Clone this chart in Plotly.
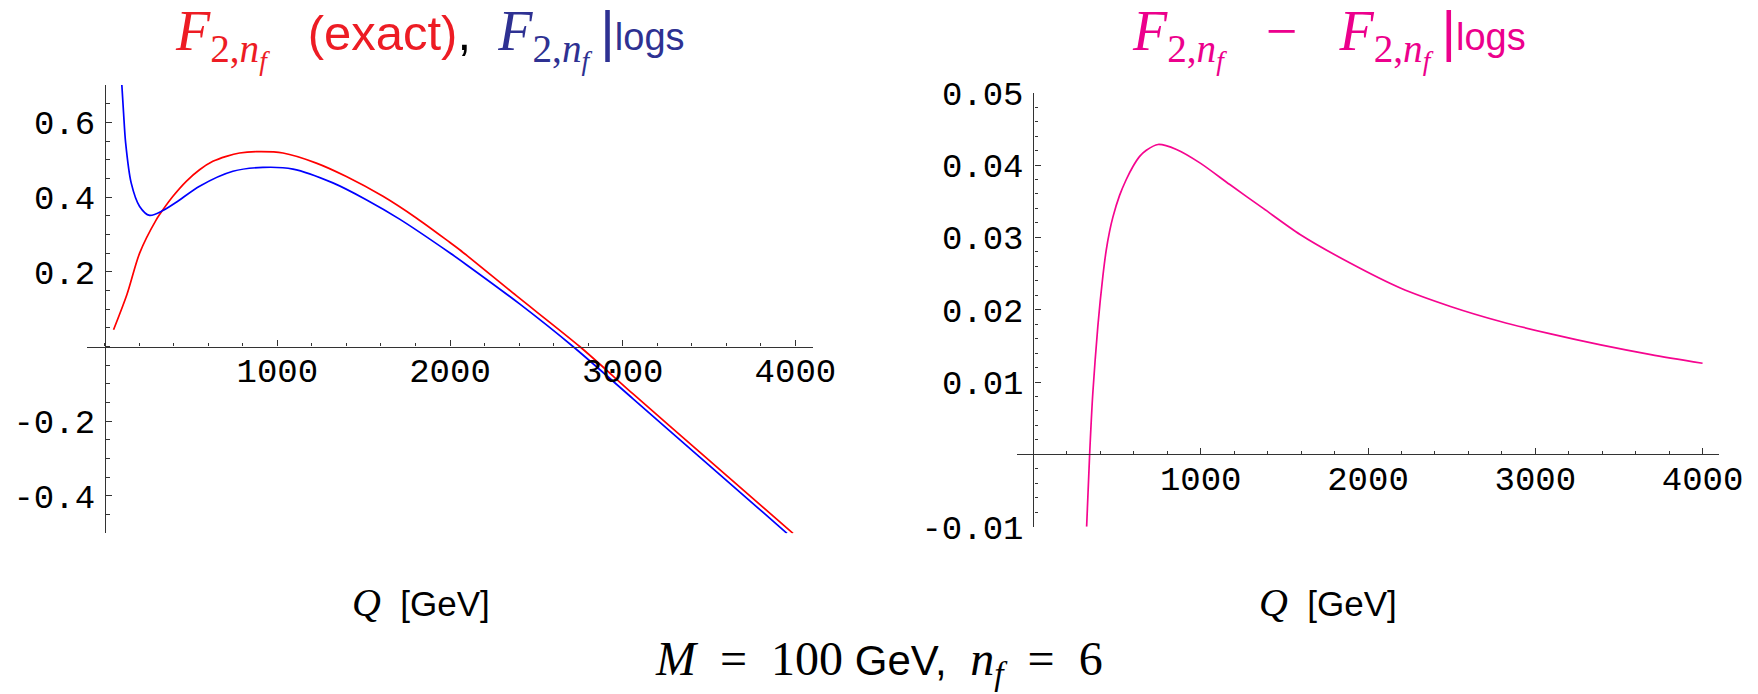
import plotly.graph_objects as go

# ---------------- data ----------------
q_exact = [52, 130, 203, 299, 338, 396, 473, 550, 627, 705, 782, 878, 1033, 1226, 1400,
           1612, 1805, 1998, 2056, 2384, 2751, 3060, 3446, 3986]
f_exact = [0.045, 0.14, 0.25, 0.339, 0.366, 0.402, 0.442, 0.473, 0.4956, 0.509, 0.518,
           0.5215, 0.518, 0.491, 0.455, 0.402, 0.344, 0.279, 0.259, 0.136, 0.0, -0.127,
           -0.283, -0.5]

q_logs = [100, 110, 122, 154, 203, 261, 338, 415, 550, 743, 917, 1091, 1322, 1515, 1708,
          1998, 2095, 2403, 2712, 3060, 3446, 3951]
f_logs = [0.70, 0.625, 0.545, 0.438, 0.375, 0.351, 0.364, 0.386, 0.429, 0.469, 0.4795,
          0.475, 0.438, 0.393, 0.341, 0.251, 0.219, 0.114, 0.0, -0.14, -0.296, -0.5]

q_diff = [318, 336, 355, 385, 415, 435, 455, 475, 515, 555, 595, 635, 675, 745, 855, 995,
          1174, 1374, 1594, 1893, 2193, 2493, 2792, 3092, 3391, 3691, 4000]
f_diff = [-0.01, 0.0, 0.00845, 0.0177, 0.0246, 0.0282, 0.0308, 0.0328, 0.0358, 0.0380,
          0.0398, 0.0412, 0.04205, 0.04284, 0.04215, 0.0403, 0.0373, 0.0340, 0.0304,
          0.02645, 0.0230, 0.02045, 0.01837, 0.01666, 0.01514, 0.0138, 0.0126]

x_ticks = [1000, 2000, 3000, 4000]
x_ticklabels = ["1000", "2000", "3000", "4000"]
y1_ticks = [-0.4, -0.2, 0.2, 0.4, 0.6]
y1_ticklabels = ["-0.4", "-0.2", "0.2", "0.4", "0.6"]
y2_ticks = [-0.01, 0.01, 0.02, 0.03, 0.04, 0.05]
y2_ticklabels = ["-0.01", "0.01", "0.02", "0.03", "0.04", "0.05"]

# ---------------- figure ----------------
W, H = 1758, 694
def px(x):
    return x / W
def py(y):
    return 1 - y / H

RED_LINE = "#FF0000"
BLUE_LINE = "#0000FF"
MAG_LINE = "#F5058F"
RED_T = "#ED1C24"
BLUE_T = "#2E3192"
MAG_T = "#EC008C"

fig = go.Figure()
fig.add_trace(go.Scatter(x=q_exact, y=f_exact, mode="lines",
                         line=dict(color=RED_LINE, width=1.7, shape="spline", smoothing=0.8),
                         xaxis="x", yaxis="y", showlegend=False))
fig.add_trace(go.Scatter(x=q_logs, y=f_logs, mode="lines",
                         line=dict(color=BLUE_LINE, width=1.7, shape="spline", smoothing=0.8),
                         xaxis="x", yaxis="y", showlegend=False))
fig.add_trace(go.Scatter(x=q_diff, y=f_diff, mode="lines",
                         line=dict(color=MAG_LINE, width=1.7, shape="spline", smoothing=0.8),
                         xaxis="x2", yaxis="y2", showlegend=False))

tickfont = dict(family="Liberation Mono, Courier New, monospace", size=34, color="black")
axcol = "#333333"

common_x = dict(range=[-100, 4100], showgrid=False, zeroline=False, showline=True,
                linecolor=axcol, linewidth=1.2, ticks="inside", ticklen=6, tickwidth=1,
                tickcolor=axcol, tickvals=x_ticks, ticktext=x_ticklabels, tickfont=tickfont,
                minor=dict(ticks="inside", ticklen=3.5, tickwidth=1, tickcolor=axcol,
                           tick0=0, dtick=200),
                ticklabelstandoff=-6, automargin=False,
                anchor="free", fixedrange=True)
common_y = dict(showgrid=False, zeroline=False, showline=True, linecolor=axcol,
                linewidth=1.2, ticks="inside", ticklen=6, tickwidth=1, tickcolor=axcol,
                tickfont=tickfont, anchor="free", ticklabelstandoff=3, automargin=False,
                fixedrange=True)

y1_dom = [py(533.3), py(85)]
y2_dom = [py(526.7), py(92.7)]

fig.update_layout(
    template="none",
    width=W, height=H, margin=dict(l=0, r=0, t=0, b=0, pad=0), autosize=False,
    paper_bgcolor="white", plot_bgcolor="white",
    xaxis=dict(domain=[px(87.3), px(812.7)], position=py(346.5), **common_x),
    yaxis=dict(domain=y1_dom, range=[-0.5, 0.7], position=px(105),
               tickvals=y1_ticks, ticktext=y1_ticklabels,
               minor=dict(ticks="inside", ticklen=3.5, tickwidth=1, tickcolor=axcol,
                          tick0=0, dtick=0.05), **common_y),
    xaxis2=dict(domain=[px(1016.7), px(1719.3)], position=py(454.4), **common_x),
    yaxis2=dict(domain=y2_dom, range=[-0.01, 0.05], position=px(1033.4),
                tickvals=y2_ticks, ticktext=y2_ticklabels,
                minor=dict(ticks="inside", ticklen=3.5, tickwidth=1, tickcolor=axcol,
                           tick0=0, dtick=0.002), **common_y),
)

SERIF = "font-family:Liberation Serif"
SANS = "font-family:Liberation Sans"

def fsym(color):
    return (f'<span style="{SERIF};color:{color};font-size:56px"><i>F</i><sub>2,<i>n</i>'
            f'<sub><i>f</i></sub></sub></span>')

def logs(color):
    return (f'<span style="{SANS};color:{color};font-size:56px">\u2009|</span>'
            f'<span style="{SANS};color:{color};font-size:38px">logs</span>')

title_left = (fsym(RED_T) + f'<span style="{SANS};color:{RED_T}">   (exact)</span>'
              + '<span style="color:black">,  </span>' + fsym(BLUE_T) + logs(BLUE_T))
title_right = (fsym(MAG_T)
               + f'<span style="{SERIF};color:{MAG_T};font-size:56px">   \u2212   </span>'
               + fsym(MAG_T) + logs(MAG_T))

fig.add_annotation(x=px(430), y=py(38), xref="paper", yref="paper", text=title_left,
                   showarrow=False, xanchor="center", yanchor="middle",
                   font=dict(family="Liberation Sans", size=49, color=RED_T))
fig.add_annotation(x=px(1329), y=py(38), xref="paper", yref="paper", text=title_right,
                   showarrow=False, xanchor="center", yanchor="middle",
                   font=dict(family="Liberation Sans", size=49, color=MAG_T))

qlabel = (f'<span style="{SERIF};font-size:40px"><i>Q</i></span>'
          f'<span style="{SANS}">  [GeV]</span>')
fig.add_annotation(x=px(421), y=py(602), xref="paper", yref="paper", text=qlabel,
                   showarrow=False, xanchor="center", yanchor="middle",
                   font=dict(family="Liberation Sans", size=35, color="black"))
fig.add_annotation(x=px(1328), y=py(602), xref="paper", yref="paper", text=qlabel,
                   showarrow=False, xanchor="center", yanchor="middle",
                   font=dict(family="Liberation Sans", size=35, color="black"))

bottom = (f'<span style="{SERIF}"><i>M</i>  =  100</span>'
          f'<span style="{SANS};font-size:42px"> GeV, </span>'
          f'<span style="{SERIF}"> <i>n</i><sub><i>f</i></sub>  =  6</span>')
fig.add_annotation(x=px(879), y=py(662), xref="paper", yref="paper", text=bottom,
                   showarrow=False, xanchor="center", yanchor="middle",
                   font=dict(family="Liberation Serif", size=48, color="black"))

fig.write_html("out.html")
